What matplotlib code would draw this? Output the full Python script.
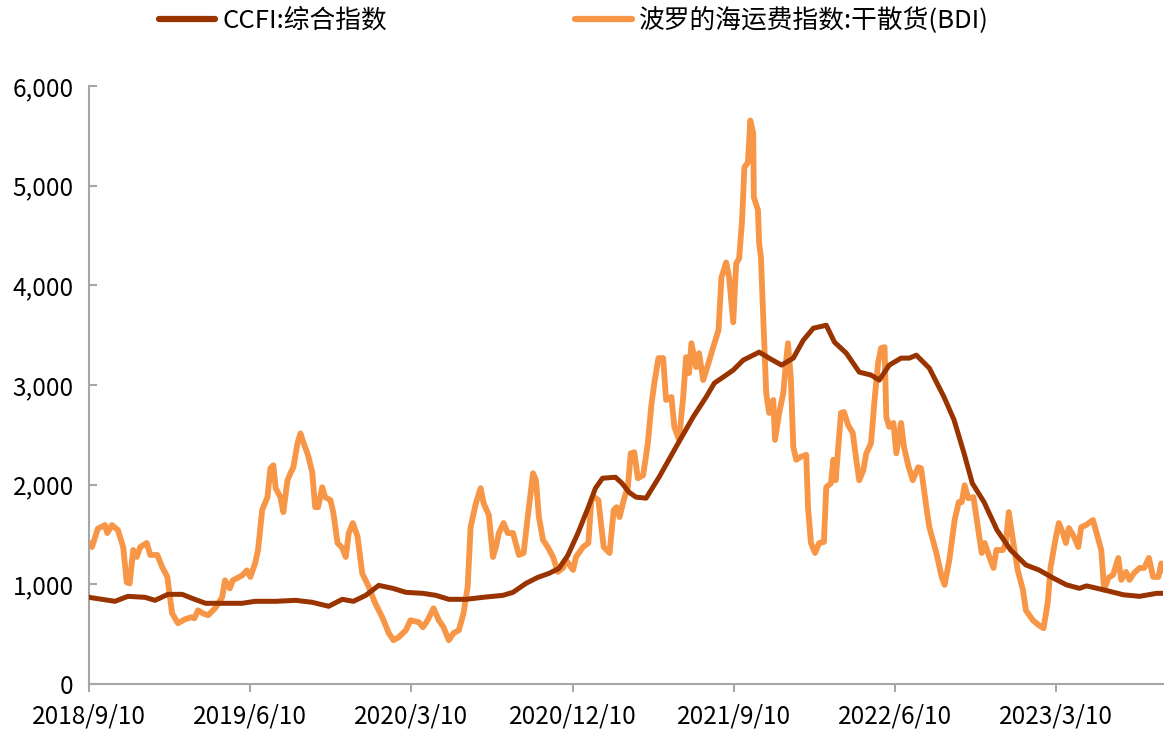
import matplotlib
matplotlib.use('Agg')

import matplotlib.pyplot as plt
import matplotlib.ticker as mticker
import pandas as pd

plt.rcParams['font.family'] = ['Noto Sans CJK SC', 'DejaVu Sans']

# ========== 数据 ==========
ccfi_dates = [
    '2018-09-10', '2018-10-24', '2018-11-15', '2018-12-14', '2018-12-31', '2019-01-22',
    '2019-02-15', '2019-03-04', '2019-03-27', '2019-04-29', '2019-05-28', '2019-06-19',
    '2019-07-24', '2019-08-27', '2019-09-24', '2019-10-22', '2019-11-14', '2019-12-03',
    '2019-12-24', '2020-01-15', '2020-02-08', '2020-03-01', '2020-03-30', '2020-04-21',
    '2020-05-13', '2020-06-11', '2020-07-10', '2020-08-13', '2020-08-30', '2020-09-21',
    '2020-10-11', '2020-10-30', '2020-11-16', '2020-12-01', '2020-12-18', '2021-01-05',
    '2021-01-17', '2021-01-29', '2021-02-20', '2021-03-03', '2021-03-15', '2021-03-27',
    '2021-04-13', '2021-05-05', '2021-06-03', '2021-07-02', '2021-07-24', '2021-08-07',
    '2021-08-22', '2021-09-08', '2021-09-25', '2021-10-12', '2021-10-22', '2021-11-08',
    '2021-11-29', '2021-12-19', '2022-01-05', '2022-01-22', '2022-02-13', '2022-02-27',
    '2022-03-19', '2022-04-10', '2022-04-30', '2022-05-14', '2022-05-31', '2022-06-20',
    '2022-07-04', '2022-07-16', '2022-08-07', '2022-09-01', '2022-09-18', '2022-10-05',
    '2022-10-19', '2022-11-08', '2022-11-30', '2022-12-23', '2023-01-18', '2023-02-09',
    '2023-03-05', '2023-03-28', '2023-04-19', '2023-05-01', '2023-05-30', '2023-07-03',
    '2023-07-30', '2023-08-28', '2023-09-08',
]
ccfi_values = [
    870, 830, 880, 870, 840, 900,
    900, 860, 810, 810, 810, 830,
    830, 840, 820, 780, 850, 830,
    890, 990, 960, 920, 910, 890,
    850, 850, 870, 890, 920, 1010,
    1070, 1110, 1160, 1290, 1510, 1775,
    1965, 2065, 2075, 2015, 1925, 1875,
    1865, 2075, 2380, 2680, 2880, 3020,
    3080, 3150, 3250, 3300, 3330, 3270,
    3200, 3270, 3450, 3570, 3600, 3430,
    3320, 3130, 3100, 3050, 3200, 3270,
    3270, 3300, 3170, 2880, 2650, 2315,
    2015, 1825, 1545, 1345, 1195, 1145,
    1065, 995, 960, 985, 945, 895,
    880, 910, 910,
]

bdi_dates = [
    '2018-09-10', '2018-09-15', '2018-09-25', '2018-10-07', '2018-10-11', '2018-10-19',
    '2018-10-29', '2018-11-07', '2018-11-13', '2018-11-18', '2018-11-24', '2018-11-30',
    '2018-12-06', '2018-12-17', '2018-12-23', '2019-01-04', '2019-01-12', '2019-01-21',
    '2019-01-29', '2019-02-08', '2019-02-20', '2019-03-03', '2019-03-08', '2019-03-14',
    '2019-03-22', '2019-03-31', '2019-04-12', '2019-04-24', '2019-04-29', '2019-05-07',
    '2019-05-12', '2019-05-28', '2019-06-05', '2019-06-11', '2019-06-19', '2019-06-24',
    '2019-07-01', '2019-07-10', '2019-07-15', '2019-07-20', '2019-07-24', '2019-08-01',
    '2019-08-06', '2019-08-13', '2019-08-18', '2019-08-23', '2019-08-30', '2019-09-04',
    '2019-09-09', '2019-09-17', '2019-09-24', '2019-09-29', '2019-10-04', '2019-10-11',
    '2019-10-16', '2019-10-25', '2019-10-30', '2019-11-06', '2019-11-14', '2019-11-20',
    '2019-11-25', '2019-12-02', '2019-12-10', '2019-12-18', '2019-12-29', '2020-01-09',
    '2020-01-21', '2020-02-01', '2020-02-09', '2020-02-18', '2020-03-01', '2020-03-09',
    '2020-03-23', '2020-03-30', '2020-04-07', '2020-04-17', '2020-04-26', '2020-05-04',
    '2020-05-13', '2020-05-21', '2020-05-30', '2020-06-07', '2020-06-14', '2020-06-19',
    '2020-06-28', '2020-07-06', '2020-07-11', '2020-07-20', '2020-07-27', '2020-08-01',
    '2020-08-06', '2020-08-14', '2020-08-21', '2020-08-30', '2020-09-09', '2020-09-17',
    '2020-09-24', '2020-10-03', '2020-10-08', '2020-10-13', '2020-10-20', '2020-10-28',
    '2020-11-06', '2020-11-14', '2020-11-23', '2020-11-28', '2020-12-10', '2020-12-15',
    '2020-12-27', '2021-01-05', '2021-01-10', '2021-01-15', '2021-01-22', '2021-01-31',
    '2021-02-10', '2021-02-17', '2021-02-22', '2021-02-27', '2021-03-06', '2021-03-13',
    '2021-03-18', '2021-03-24', '2021-03-30', '2021-04-08', '2021-04-16', '2021-04-22',
    '2021-04-27', '2021-05-04', '2021-05-12', '2021-05-17', '2021-05-26', '2021-05-31',
    '2021-06-08', '2021-06-15', '2021-06-20', '2021-06-25', '2021-06-29', '2021-07-07',
    '2021-07-12', '2021-07-19', '2021-07-28', '2021-08-05', '2021-08-14', '2021-08-19',
    '2021-08-27', '2021-09-01', '2021-09-08', '2021-09-13', '2021-09-18', '2021-09-23',
    '2021-09-27', '2021-10-03', '2021-10-07', '2021-10-12', '2021-10-13', '2021-10-20',
    '2021-10-22', '2021-10-25', '2021-10-30', '2021-11-03', '2021-11-08', '2021-11-15',
    '2021-11-18', '2021-11-25', '2021-12-02', '2021-12-07', '2021-12-10', '2021-12-15',
    '2021-12-19', '2021-12-24', '2022-01-01', '2022-01-10', '2022-01-13', '2022-01-18',
    '2022-01-25', '2022-02-01', '2022-02-09', '2022-02-13', '2022-02-21', '2022-02-25',
    '2022-03-01', '2022-03-10', '2022-03-15', '2022-03-22', '2022-03-30', '2022-04-05',
    '2022-04-10', '2022-04-17', '2022-04-22', '2022-04-30', '2022-05-06', '2022-05-12',
    '2022-05-17', '2022-05-23', '2022-05-26', '2022-05-31', '2022-06-07', '2022-06-12',
    '2022-06-20', '2022-06-25', '2022-07-03', '2022-07-10', '2022-07-19', '2022-07-24',
    '2022-08-02', '2022-08-07', '2022-08-19', '2022-08-28', '2022-09-02', '2022-09-10',
    '2022-09-19', '2022-09-26', '2022-10-01', '2022-10-06', '2022-10-12', '2022-10-21',
    '2022-10-30', '2022-11-04', '2022-11-09', '2022-11-17', '2022-11-24', '2022-11-29',
    '2022-12-10', '2022-12-15', '2022-12-20', '2022-12-27', '2023-01-04', '2023-01-13',
    '2023-01-18', '2023-01-30', '2023-02-09', '2023-02-17', '2023-02-24', '2023-03-01',
    '2023-03-10', '2023-03-15', '2023-03-22', '2023-03-27', '2023-04-01', '2023-04-10',
    '2023-04-17', '2023-04-22', '2023-04-30', '2023-05-12', '2023-05-18', '2023-05-26',
    '2023-05-31', '2023-06-07', '2023-06-15', '2023-06-24', '2023-06-29', '2023-07-07',
    '2023-07-13', '2023-07-21', '2023-07-30', '2023-08-07', '2023-08-15', '2023-08-22',
    '2023-08-31', '2023-09-05', '2023-09-08',
]
bdi_values = [
    1410, 1375, 1560, 1595, 1515, 1595,
    1545, 1375, 1020, 1010, 1345, 1275,
    1375, 1415, 1295, 1295, 1175, 1075,
    710, 610, 650, 670, 660, 740,
    710, 690, 760, 870, 1040, 960,
    1040, 1090, 1140, 1075, 1210, 1345,
    1745, 1875, 2165, 2195, 1965, 1875,
    1725, 2045, 2115, 2175, 2415, 2515,
    2425, 2295, 2125, 1775, 1775, 1975,
    1875, 1845, 1715, 1415, 1365, 1275,
    1515, 1615, 1480, 1110, 975, 810,
    670, 510, 440, 470, 540, 640,
    620, 570, 640, 760, 640, 570,
    440, 510, 540, 710, 975, 1575,
    1815, 1965, 1815, 1695, 1275, 1375,
    1515, 1615, 1515, 1515, 1295, 1315,
    1675, 2115, 2045, 1675, 1445, 1375,
    1275, 1125, 1165, 1245, 1145, 1275,
    1375, 1415, 1845, 1875, 1845, 1375,
    1315, 1745, 1775, 1675, 1845, 1975,
    2315, 2325, 2065, 2095, 2415, 2800,
    3020, 3270, 3270, 2850, 2880, 2580,
    2450, 2880, 3280, 3120, 3420, 3180,
    3320, 3050, 3220, 3380, 3550, 4080,
    4230, 4080, 3630, 4220, 4270, 4650,
    5185, 5235, 5655, 5525, 4885, 4755,
    4420, 4285, 3520, 2920, 2720, 2850,
    2450, 2720, 2920, 3250, 3420, 3050,
    2380, 2250, 2280, 2300, 1775, 1415,
    1315, 1415, 1425, 1975, 2015, 2250,
    2045, 2720, 2730, 2600, 2520, 2250,
    2045, 2145, 2315, 2415, 2850, 3220,
    3370, 3380, 2680, 2580, 2620, 2315,
    2620, 2380, 2175, 2045, 2175, 2165,
    1775, 1575, 1315, 1075, 995, 1245,
    1645, 1825, 1825, 1995, 1865, 1875,
    1515, 1315, 1415, 1275, 1165, 1345,
    1345, 1415, 1725, 1445, 1145, 945,
    740, 640, 590, 560, 810, 1175,
    1475, 1615, 1515, 1415, 1565, 1475,
    1375, 1575, 1595, 1645, 1515, 1345,
    945, 1065, 1095, 1265, 1045, 1125,
    1045, 1115, 1165, 1165, 1265, 1075,
    1075, 1210, 1140,
]

tick_dates = ['2018-09-10', '2019-06-10', '2020-03-10', '2020-12-10',
              '2021-09-10', '2022-06-10', '2023-03-10']
tick_labels = ['2018/9/10', '2019/6/10', '2020/3/10', '2020/12/10',
               '2021/9/10', '2022/6/10', '2023/3/10']

ccfi_label = 'CCFI:综合指数'
bdi_label = '波罗的海运费指数:干散货(BDI)'

# ========== 绘图 ==========
fig = plt.figure(figsize=(11.64, 7.33), dpi=100)
ax = fig.add_axes([0.0765, 0.0668, 0.9227, 0.8158])

ax.plot(pd.to_datetime(ccfi_dates), ccfi_values, color='#993300', linewidth=3.6,
        label=ccfi_label, solid_joinstyle='round', zorder=3)
ax.plot(pd.to_datetime(bdi_dates), bdi_values, color='#F79646', linewidth=4.2,
        label=bdi_label, solid_joinstyle='round', zorder=2)

ax.set_xlim(pd.Timestamp('2018-09-10'), pd.Timestamp('2023-09-08'))
ax.set_ylim(0, 6000)
ax.set_yticks(range(0, 6001, 1000))
ax.yaxis.set_major_formatter(mticker.FuncFormatter(lambda v, p: f'{int(v):,}'))
ax.set_xticks(pd.to_datetime(tick_dates))
ax.set_xticklabels(tick_labels)

for s in ['top', 'right']:
    ax.spines[s].set_visible(False)
for s in ['left', 'bottom']:
    ax.spines[s].set_color('#A6A6A6')
    ax.spines[s].set_linewidth(1.5)

ax.tick_params(axis='y', direction='in', length=6, width=1.5, color='#A6A6A6',
               labelsize=17.5, pad=11, labelcolor='black')
ax.tick_params(axis='x', direction='out', length=6, width=1.5, color='#A6A6A6',
               labelsize=17.5, pad=8, labelcolor='black')

leg = fig.legend(loc='upper center', bbox_to_anchor=(0.493, 1.022), ncol=2, frameon=False,
                 fontsize=18.5, handlelength=2.2, handletextpad=0.3, columnspacing=7.3)
for line in leg.get_lines():
    line.set_linewidth(4.5)
    line.set_solid_capstyle('round')

plt.savefig('out.png', dpi=100)
